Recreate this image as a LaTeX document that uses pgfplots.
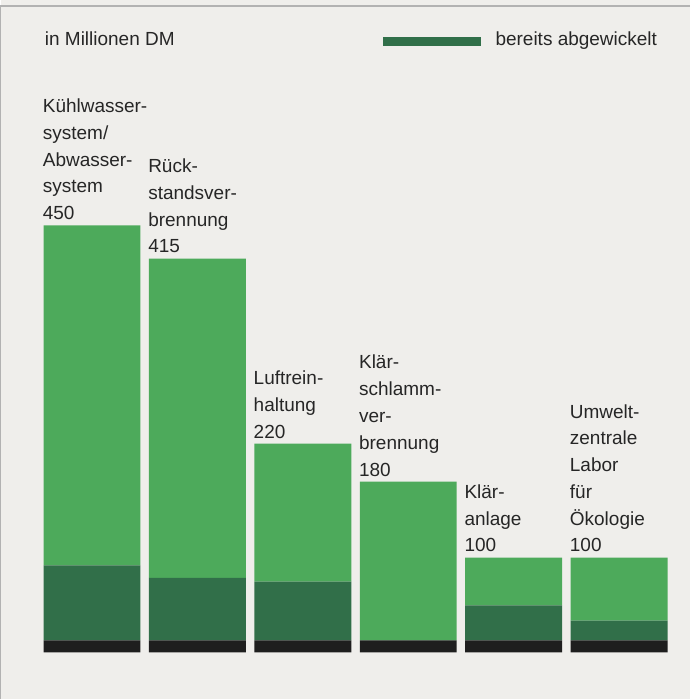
\documentclass[border=0pt]{standalone}
\usepackage{fontspec}
\setmainfont{Liberation Sans}
\usepackage{pgfplots}
\pgfplotsset{compat=1.18}
\definecolor{bg}{HTML}{EFEEEB}
\definecolor{lightg}{HTML}{4DAA5B}
\definecolor{darkg}{HTML}{316F49}
\definecolor{blk}{HTML}{1E1E1E}
\definecolor{txt}{HTML}{262626}
\newcommand{\lab}{\fontsize{9.5}{13.4}\selectfont}
\begin{document}
\begin{tikzpicture}[x=1pt, y=1pt]
\fill[bg] (-19.375,-23.5) rectangle (325.625,326.5);
\draw[gray!60, line width=0.6pt] (-19.375,-23.5) -- (-19.375,323.5) -- (325.625,323.5);
\begin{axis}[
  at={(0pt,0pt)}, anchor=south west,
  scale only axis, width=316.5pt, height=218.5pt,
  xmin=-0.5, xmax=5.5, ymin=0, ymax=460,
  axis lines=none, ticks=none,
  ybar stacked, bar width=48.5pt,
  clip=false,
  every axis plot/.append style={draw=none},
]
\addplot[fill=blk] coordinates {(0,12.6) (1,12.6) (2,12.6) (3,12.6) (4,12.6) (5,12.6)};
\addplot[fill=darkg] coordinates {(0,79) (1,66) (2,62) (3,0) (4,37) (5,21)};
\addplot[fill=lightg] coordinates {(0,358.4) (1,336.4) (2,145.4) (3,167.4) (4,50.4) (5,66.4)};
\node[anchor=south west, inner sep=0pt, align=left, yshift=2.5pt, text=txt, font=\lab] at (axis cs:-0.47,450) {Kühlwasser-\\system/\\Abwasser-\\system\\450};
\node[anchor=south west, inner sep=0pt, align=left, yshift=2.5pt, text=txt, font=\lab] at (axis cs:0.53,415) {Rück-\\standsver-\\brennung\\415};
\node[anchor=south west, inner sep=0pt, align=left, yshift=2.5pt, text=txt, font=\lab] at (axis cs:1.53,220) {Luftrein-\\haltung\\220};
\node[anchor=south west, inner sep=0pt, align=left, yshift=2.5pt, text=txt, font=\lab] at (axis cs:2.53,180) {Klär-\\schlamm-\\ver-\\brennung\\180};
\node[anchor=south west, inner sep=0pt, align=left, yshift=2.5pt, text=txt, font=\lab] at (axis cs:3.53,100) {Klär-\\anlage\\100};
\node[anchor=south west, inner sep=0pt, align=left, yshift=2.5pt, text=txt, font=\lab] at (axis cs:4.53,100) {Umwelt-\\zentrale\\Labor\\für\\Ökologie\\100};
\end{axis}
\node[anchor=base west, inner sep=0pt, text=txt, font=\lab] at (2.6,303.5) {in Millionen DM};
\fill[darkg] (172.0,303.5) rectangle (221.1,308.2);
\node[anchor=base west, inner sep=0pt, text=txt, font=\lab] at (228.1,303.5) {bereits abgewickelt};
\end{tikzpicture}
\end{document}
